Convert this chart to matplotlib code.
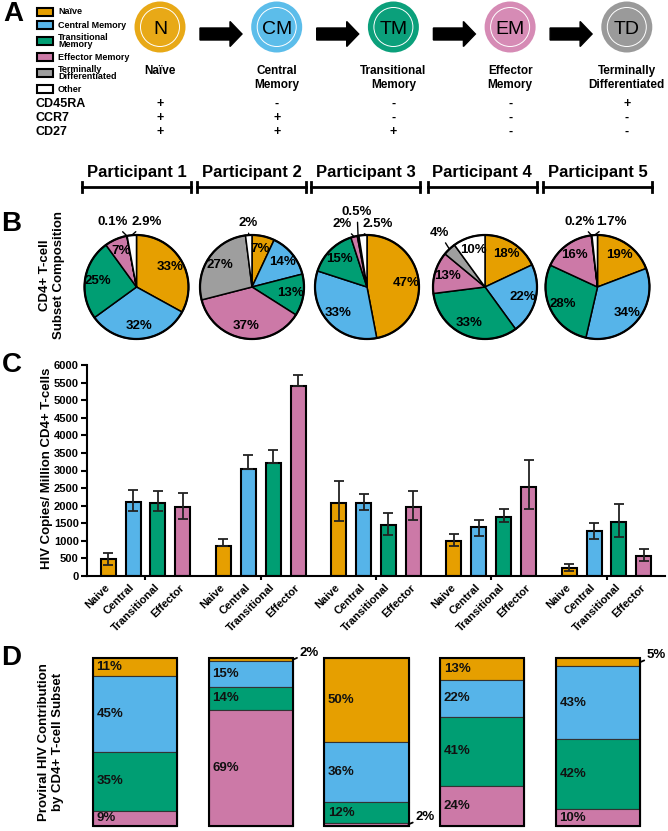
import numpy as np
import matplotlib
matplotlib.use("Agg")
import matplotlib.pyplot as plt
from matplotlib.patches import Circle, Rectangle, FancyArrow

plt.rcParams["font.family"] = ["Liberation Sans", "DejaVu Sans"]
plt.rcParams["font.weight"] = "bold"

W, H = 668, 831

# ---- shared categories ----
legend_labels = ["Naïve", "Central Memory", "Transitional\nMemory", "Effector Memory",
                 "Terminally\nDifferentiated", "Other"]
colors = ["#E69F00", "#56B4E9", "#009E73", "#CC79A7", "#9E9E9E", "#FFFFFF"]
participants = ["Participant 1", "Participant 2", "Participant 3", "Participant 4", "Participant 5"]

# ---- panel A ----
circle_abbr = ["N", "CM", "TM", "EM", "TD"]
circle_names = ["Naïve", "Central\nMemory", "Transitional\nMemory", "Effector\nMemory",
                "Terminally\nDifferentiated"]
circle_colors = ["#E8A917", "#5CBDEA", "#0BA07B", "#D68BB5", "#9A9A9A"]
markers = ["CD45RA", "CCR7", "CD27"]
marker_signs = [["+", "-", "-", "-", "+"],
                ["+", "+", "-", "-", "-"],
                ["+", "+", "+", "-", "-"]]

# ---- panel B: subset composition (%) per participant ----
pie_naive = [33, 7, 47, 18, 19]
pie_central = [32, 14, 33, 22, 34]
pie_trans = [25, 13, 15, 33, 28]
pie_effector = [7, 37, 2, 13, 16]
pie_td = [0.1, 27, 0.5, 4, 0.2]
pie_other = [2.9, 2, 2.5, 10, 1.7]

# ---- panel C: HIV copies / million CD4+ T-cells ----
bar_labels = ["Naive", "Central", "Transitional", "Effector"]
c_naive = [470, 860, 2090, 1000, 220]
c_central = [2110, 3030, 2090, 1380, 1270]
c_trans = [2080, 3200, 1460, 1690, 1540]
c_effector = [1960, 5400, 1960, 2530, 580]
err_hi_naive = [190, 195, 620, 200, 125]
err_hi_central = [330, 420, 240, 210, 240]
err_hi_trans = [330, 390, 340, 210, 505]
err_hi_effector = [390, 320, 450, 770, 190]
err_lo_naive = [145, 0, 515, 160, 85]
err_lo_central = [260, 0, 220, 250, 225]
err_lo_trans = [230, 0, 305, 155, 440]
err_lo_effector = [350, 0, 360, 625, 155]

# ---- panel D: proviral contribution (%) ----
d_naive = [11, 2, 50, 13, 5]
d_central = [45, 15, 36, 22, 43]
d_trans = [35, 14, 12, 41, 42]
d_effector = [9, 69, 2, 24, 10]


def rect(x0, y0, w, h):
    return [x0 / W, 1 - (y0 + h) / H, w / W, h / H]


fig = plt.figure(figsize=(W / 100, H / 100), dpi=100)
ov = fig.add_axes([0, 0, 1, 1])
ov.set_xlim(0, W)
ov.set_ylim(H, 0)
ov.axis("off")

# panel letters
for letter, (lx, ly) in zip("ABCD", [(3, 1), (1, 211), (2, 352), (1, 645)]):
    ov.text(lx, ly, letter, fontsize=20, fontweight="bold", ha="left", va="top")

# ---- A: legend ----
leg_y = [12, 25, 41, 57, 73, 89]
for lab, col, y in zip(legend_labels, colors, leg_y):
    ov.add_patch(Rectangle((37, y - 4), 16, 8, fc=col, ec="black", lw=1.5))
    ov.text(58, y, lab, fontsize=6.5, va="center", ha="left", linespacing=0.8)

# ---- A: circles, arrows, markers ----
circle_x = [160 + i * 116.7 for i in range(5)]
for i, cx in enumerate(circle_x):
    ov.add_patch(Circle((cx, 27), 25.5, fc=circle_colors[i], ec="none"))
    ov.add_patch(Circle((cx, 27), 19.5, fill=False, ec="white", lw=0.7))
    ov.text(cx, 29, circle_abbr[i], fontsize=14, fontweight="normal", ha="center", va="center")
    ov.text(cx, 65, circle_names[i], fontsize=8.5, ha="center", va="top", linespacing=1.2)
    if i < 4:
        ov.add_patch(FancyArrow(cx + 40, 34, 30, 0, width=12, head_width=25,
                                head_length=12, color="black"))
    for r, y in enumerate([104, 118, 132]):
        ov.text(cx, y, marker_signs[r][i], fontsize=9, ha="center", va="center")
for m, y in zip(markers, [104, 118, 132]):
    ov.text(35, y, m, fontsize=9, ha="left", va="center")

# ---- B: participant brackets and pies ----
bracket_x = [136.5, 251.5, 365.5, 482, 597.5]
for name, cx in zip(participants, bracket_x):
    ov.plot([cx - 54.5, cx + 54.5], [187, 187], color="black", lw=2)
    for ex in (cx - 54.5, cx + 54.5):
        ov.plot([ex, ex], [182, 192], color="black", lw=2)
    ov.text(cx, 180, name, fontsize=12, ha="center", va="bottom")

ov.text(52, 275, "CD4+ T-cell\nSubset Composition", fontsize=9.5, rotation=90,
        ha="center", va="center", linespacing=1.15)

outside_pos = {(0, 4): (-0.46, 1.25), (0, 5): (0.2, 1.25),
               (1, 5): (-0.08, 1.23),
               (2, 3): (-0.48, 1.21), (2, 4): (-0.19, 1.44), (2, 5): (0.2, 1.21),
               (3, 4): (-0.88, 1.04),
               (4, 4): (-0.35, 1.25), (4, 5): (0.27, 1.25)}

R = 52
pie_x = [136.5, 252, 367, 485, 597.5]
for p, cx in enumerate(pie_x):
    vals = [pie_naive[p], pie_central[p], pie_trans[p], pie_effector[p], pie_td[p], pie_other[p]]
    ax = fig.add_axes(rect(cx - R * 1.05, 287 - R * 1.05, 2.1 * R, 2.1 * R))
    ax.pie(vals, colors=colors, startangle=90, counterclock=False,
           wedgeprops=dict(edgecolor="black", linewidth=1.1))
    ax.add_patch(Circle((0, 0), 1, fill=False, ec="black", lw=1.6))
    ax.set_xlim(-1.05, 1.05)
    ax.set_ylim(-1.05, 1.05)
    ax.set_aspect("equal")
    ax.axis("off")
    total = sum(vals)
    cum = 0
    for k, v in enumerate(vals):
        mid = np.deg2rad(90 - (cum + v / 2) * 360 / total)
        cum += v
        txt = f"{v:g}%"
        if v < 5:
            ax.annotate(txt, xy=(np.cos(mid), np.sin(mid)), xytext=outside_pos[(p, k)],
                        fontsize=9.5, ha="center", va="center", annotation_clip=False,
                        arrowprops=dict(arrowstyle="-", lw=1, color="black",
                                        shrinkA=1, shrinkB=0))
        else:
            ax.text(0.75 * np.cos(mid), 0.75 * np.sin(mid), txt, fontsize=9.5,
                    ha="center", va="center")

# ---- C: bar chart ----
axc = fig.add_axes(rect(87, 365, 578, 211))
gap = 4.63
c_means = [c_naive, c_central, c_trans, c_effector]
c_hi = [err_hi_naive, err_hi_central, err_hi_trans, err_hi_effector]
c_lo = [err_lo_naive, err_lo_central, err_lo_trans, err_lo_effector]
minor_x, minor_lab = [], []
for s in range(4):
    xs = np.arange(5) * gap + s
    axc.bar(xs, c_means[s], width=0.6, color=colors[s], edgecolor="black", lw=1.5, zorder=2)
    axc.errorbar(xs, c_means[s], yerr=[c_lo[s], c_hi[s]], fmt="none", ecolor="#222222",
                 elinewidth=1.3, capsize=3.6, capthick=1.3, zorder=3)
    minor_x.extend(xs)
    minor_lab.extend([bar_labels[s]] * 5)
order = np.argsort(minor_x)
axc.set_xlim(-0.85, 4 * gap + 3 + 0.85)
axc.set_ylim(0, 6000)
axc.set_yticks(np.arange(0, 6001, 500))
axc.set_xticks(np.arange(5) * gap + 1.5)
axc.set_xticklabels([])
axc.set_xticks(np.array(minor_x)[order], minor=True)
axc.set_xticklabels(np.array(minor_lab)[order], minor=True, rotation=45, ha="right",
                    va="center", rotation_mode="anchor", fontsize=8, fontweight="bold")
axc.tick_params(axis="x", which="minor", length=0, pad=7)
axc.tick_params(axis="x", which="major", length=3, width=1.5)
axc.tick_params(axis="y", length=4, width=1.5, labelsize=8, pad=2)
for lab in axc.get_yticklabels():
    lab.set_fontweight("bold")
for sp in ["top", "right"]:
    axc.spines[sp].set_visible(False)
for sp in ["left", "bottom"]:
    axc.spines[sp].set_linewidth(1.5)
axc.patch.set_alpha(0)
ov.text(47, 468, "HIV Copies/ Million CD4+ T-cells", fontsize=9.5, rotation=90,
        ha="center", va="center")

# ---- D: stacked contribution bars ----
axd = fig.add_axes(rect(93, 658, 547, 168))
bw = 0.726
d_vals = [d_naive, d_central, d_trans, d_effector]
bottom = np.zeros(5)
xs = np.arange(5)
for s in range(4):
    axd.bar(xs, d_vals[s], width=bw, bottom=bottom, color=colors[s], edgecolor="#333333",
            lw=0.8, clip_on=False)
    for i in range(5):
        v = d_vals[s][i]
        midy = bottom[i] + v / 2
        if v <= 5:
            axd.annotate(f"{v}%", xy=(i + bw / 2, midy), xytext=(7, 7),
                         textcoords="offset pixels", fontsize=9.5, ha="left", va="center",
                         annotation_clip=False,
                         arrowprops=dict(arrowstyle="-", lw=1.3, color="black",
                                         shrinkA=0, shrinkB=0))
        else:
            axd.text(i - bw / 2 + 0.03, midy, f"{v}%", fontsize=9.5, ha="left", va="center",
                     color="#111111")
    bottom += np.array(d_vals[s])
axd.bar(xs, bottom, width=bw, fill=False, edgecolor="black", lw=1.5, clip_on=False)
axd.set_xlim(-bw / 2, 4 + bw / 2)
axd.set_ylim(100, 0)
axd.axis("off")
ov.text(51, 742, "Proviral HIV Contribution\nby CD4+ T-cell Subset", fontsize=9.5,
        rotation=90, ha="center", va="center", linespacing=1.15)

fig.savefig("out.png", dpi=100)
plt.close(fig)
